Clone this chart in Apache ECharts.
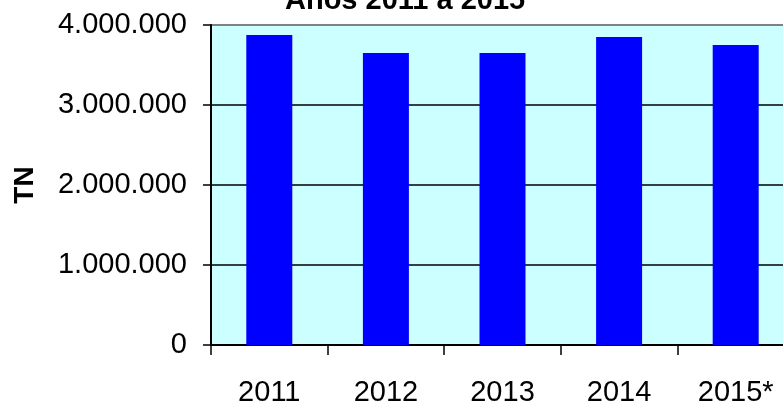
<!DOCTYPE html>
<html>
<head>
<meta charset="utf-8">
<script src="https://cdn.jsdelivr.net/npm/echarts@6/dist/echarts.min.js"></script>
<style>
  html, body { margin: 0; padding: 0; background: #fff; }
  #chart { width: 783px; height: 401px; }
</style>
</head>
<body>
<div id="chart"></div>
<script>
const years = ['2011', '2012', '2013', '2014', '2015*']
const toneladas = [3875000, 3650000, 3650000, 3850000, 3750000]
const titulo = 'Años 2011 a 2015'

const fmtMiles = v => String(v).replace(/\B(?=(\d{3})+(?!\d))/g, '.')

const myChart = echarts.init(document.getElementById('chart'))
let option = {
  backgroundColor: '#ffffff',
  animation: false,
  textStyle: { fontFamily: 'Liberation Sans, Arial, sans-serif' },
  title: {
    text: titulo,
    left: 280,
    top: -19,
    textStyle: {
      fontSize: 29,
      fontWeight: 'bold',
      color: '#000',
      fontFamily: 'Liberation Sans, Arial, sans-serif'
    }
  },
  grid: {
    left: 211,
    top: 25,
    width: 583,
    height: 320,
    show: true,
    backgroundColor: '#ccffff',
    borderColor: '#808080',
    borderWidth: 2,
    outerBoundsMode: 'none'
  },
  xAxis: {
    type: 'category',
    data: years,
    boundaryGap: true,
    axisLine: { lineStyle: { color: '#000', width: 2 } },
    axisTick: { show: true, length: 10, alignWithLabel: false, lineStyle: { color: '#000', width: 1.5 } },
    axisLabel: { color: '#000', fontSize: 29, margin: 33 },
    splitLine: { show: false }
  },
  yAxis: {
    type: 'value',
    min: 0,
    max: 4000000,
    interval: 1000000,
    name: 'TN',
    nameLocation: 'middle',
    nameRotate: 90,
    nameGap: 172,
    nameTextStyle: { fontSize: 28, fontWeight: 'bold', color: '#000' },
    axisLine: { show: true, lineStyle: { color: '#000', width: 2 } },
    axisTick: { show: true, length: 8, lineStyle: { color: '#000', width: 1.5 } },
    axisLabel: { color: '#000', fontSize: 29, margin: 24, formatter: fmtMiles },
    splitLine: { show: true, lineStyle: { color: ['#000', '#000', '#000', '#000', '#808080'], width: 1.5 } }
  },
  series: [
    {
      type: 'bar',
      data: toneladas,
      barWidth: 46,
      itemStyle: { color: '#0000ff' }
    }
  ]
}
myChart.setOption(option)
</script>
</body>
</html>
